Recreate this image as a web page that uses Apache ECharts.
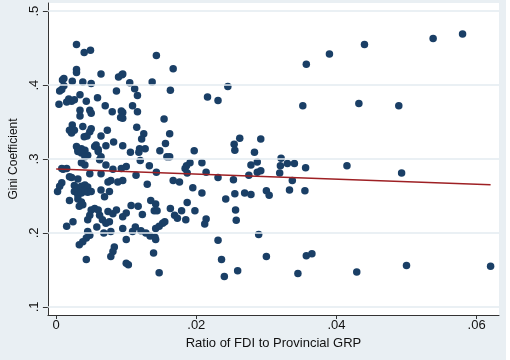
<!DOCTYPE html>
<html>
<head>
    <meta charset="utf-8" />
    <title>Gini vs FDI ratio</title>
    <script src="https://cdn.jsdelivr.net/npm/echarts@6/dist/echarts.min.js"></script>
    <style>
        html, body { margin: 0; padding: 0; background: #e9eff3; }
        #chart { width: 510px; height: 360px; }
    </style>
</head>
<body>
    <div id="chart"></div>
    <script>
        // ratio of FDI to provincial GRP (x) and Gini coefficient (y)
        var fdiRatio = [
            0.0440, 0.0538, 0.0580, 0.0432, 0.0489, 0.0415, 0.0493, 0.0429, 0.0500, 0.0620,
            0.0245, 0.0216, 0.0231, 0.0352, 0.0262, 0.0254, 0.0255, 0.0292, 0.0283, 0.0208,
            0.0278, 0.0287, 0.0321, 0.0330, 0.0340, 0.0320, 0.0214, 0.0287, 0.0292, 0.0275,
            0.0319, 0.0356, 0.0231, 0.0253, 0.0337, 0.0208, 0.0255, 0.0269, 0.0278, 0.0300,
            0.0304, 0.0333, 0.0355, 0.0242, 0.0256, 0.0257, 0.0214, 0.0212, 0.0289, 0.0231,
            0.0236, 0.0300, 0.0357, 0.0365, 0.0259, 0.0240, 0.0345,
            0.0167, 0.0163, 0.0357, 0.0390, 0.0154, 0.0162, 0.0156, 0.0158, 0.0162, 0.0197,
            0.0191, 0.0184, 0.0187,
            0.0143, 0.0095, 0.0137, 0.0105, 0.0112, 0.0116, 0.0109, 0.0116, 0.0095, 0.0095,
            0.0115, 0.0125, 0.0122, 0.0095, 0.0119, 0.0118, 0.0127, 0.0148, 0.0106,
            0.0100, 0.0120, 0.0133, 0.0143, 0.0114, 0.0186, 0.0095, 0.0130, 0.0167, 0.0176,
            0.0195, 0.0107, 0.0117, 0.0135, 0.0142, 0.0140, 0.0144, 0.0123, 0.0100, 0.0095,
            0.0163, 0.0169, 0.0173, 0.0179, 0.0187, 0.0198, 0.0185, 0.0142, 0.0147, 0.0152,
            0.0155, 0.0113, 0.0109, 0.0121, 0.0128, 0.0134, 0.0141, 0.0142, 0.0100, 0.0095,
            0.0139, 0.0103, 0.0147,
            0.0029, 0.0040, 0.0049, 0.0029, 0.0029, 0.0064, 0.0089, 0.0094, 0.0011, 0.0009,
            0.0023, 0.0038, 0.0050, 0.0011, 0.0008, 0.0005, 0.0086, 0.0034, 0.0059, 0.0018,
            0.0022, 0.0026, 0.0015, 0.0043, 0.0004, 0.0070, 0.0080, 0.0093, 0.0092, 0.0034,
            0.0034, 0.0048, 0.0050, 0.0023, 0.0026, 0.0019, 0.0022, 0.0038, 0.0050, 0.0048,
            0.0044, 0.0040, 0.0073, 0.0064, 0.0082, 0.0029, 0.0036, 0.0041, 0.0031, 0.0055,
            0.0060, 0.0057, 0.0071,
            0.0031, 0.0036, 0.0045, 0.0041, 0.0060, 0.0064, 0.0062, 0.0036, 0.0041, 0.0071,
            0.0081, 0.0093, 0.0010, 0.0015, 0.0048, 0.0064, 0.0022, 0.0031, 0.0008, 0.0005,
            0.0002, 0.0074, 0.0078, 0.0088, 0.0026, 0.0031, 0.0036, 0.0041, 0.0045, 0.0026,
            0.0031, 0.0036, 0.0041, 0.0045, 0.0050, 0.0064, 0.0076, 0.0019, 0.0031, 0.0036,
            0.0038, 0.0033, 0.0069, 0.0050, 0.0055, 0.0060, 0.0048, 0.0045, 0.0062, 0.0066,
            0.0071, 0.0076, 0.0074, 0.0081, 0.0086, 0.0024, 0.0015, 0.0058, 0.0068, 0.0078,
            0.0045, 0.0048, 0.0043, 0.0038, 0.0033, 0.0083, 0.0081, 0.0078, 0.0043, 0.0100,
            0.0008, 0.0019
        ];
        var gini = [
            0.455, 0.463, 0.469, 0.375, 0.372, 0.291, 0.281, 0.147, 0.156, 0.155,
            0.398, 0.384, 0.379, 0.372, 0.328, 0.320, 0.312, 0.327, 0.309, 0.295,
            0.292, 0.296, 0.301, 0.294, 0.294, 0.291, 0.282, 0.282, 0.284, 0.278,
            0.281, 0.288, 0.275, 0.272, 0.271, 0.254, 0.253, 0.254, 0.252, 0.257,
            0.251, 0.258, 0.257, 0.246, 0.231, 0.217, 0.219, 0.212, 0.198, 0.190,
            0.164, 0.168, 0.169, 0.172, 0.149, 0.141, 0.145,
            0.422, 0.393, 0.428, 0.442, 0.354, 0.334, 0.321, 0.303, 0.303, 0.311,
            0.295, 0.287, 0.281,
            0.440, 0.415, 0.404, 0.403, 0.395, 0.386, 0.372, 0.364, 0.363, 0.355,
            0.343, 0.334, 0.327, 0.318, 0.314, 0.309, 0.314, 0.311, 0.309,
            0.290, 0.298, 0.291, 0.282, 0.278, 0.291, 0.271, 0.266, 0.271, 0.269,
            0.261, 0.237, 0.236, 0.244, 0.239, 0.230, 0.230, 0.225, 0.227, 0.222,
            0.233, 0.224, 0.220, 0.230, 0.241, 0.230, 0.218, 0.206, 0.209, 0.213,
            0.215, 0.208, 0.202, 0.203, 0.200, 0.196, 0.194, 0.191, 0.191, 0.206,
            0.173, 0.157, 0.146,
            0.455, 0.444, 0.447, 0.421, 0.417, 0.415, 0.411, 0.414, 0.409, 0.407,
            0.405, 0.404, 0.402, 0.399, 0.394, 0.392, 0.392, 0.387, 0.383, 0.381,
            0.378, 0.380, 0.377, 0.378, 0.374, 0.372, 0.364, 0.365, 0.356, 0.366,
            0.358, 0.366, 0.362, 0.346, 0.339, 0.339, 0.335, 0.344, 0.341, 0.337,
            0.331, 0.330, 0.339, 0.331, 0.323, 0.317, 0.314, 0.312, 0.313, 0.317,
            0.313, 0.319, 0.318,
            0.310, 0.308, 0.305, 0.303, 0.310, 0.303, 0.299, 0.295, 0.292, 0.292,
            0.286, 0.287, 0.286, 0.287, 0.280, 0.280, 0.275, 0.273, 0.268, 0.263,
            0.256, 0.269, 0.271, 0.269, 0.264, 0.260, 0.263, 0.265, 0.262, 0.256,
            0.251, 0.254, 0.256, 0.255, 0.256, 0.258, 0.256, 0.244, 0.246, 0.242,
            0.238, 0.236, 0.249, 0.231, 0.233, 0.231, 0.224, 0.218, 0.224, 0.218,
            0.213, 0.215, 0.229, 0.226, 0.231, 0.215, 0.209, 0.208, 0.200, 0.202,
            0.202, 0.197, 0.193, 0.188, 0.184, 0.181, 0.175, 0.168, 0.164, 0.159,
            0.287, 0.276
        ];
        // fitted line end points
        var fitX = [0, 0.062];
        var fitY = [0.2865, 0.2653];
        // tick labels
        var xTicks = [0, 0.02, 0.04, 0.06];
        var yTicks = [0.1, 0.2, 0.3, 0.4, 0.5];

        var points = fdiRatio.map(function (x, i) { return [x, gini[i]]; });
        var fitLine = fitX.map(function (x, i) { return [x, fitY[i]]; });

        function stataNum(v) {
            var s = String(+v.toFixed(3));
            return s.replace(/^0\./, '.');
        }

        var font = "'Liberation Sans', Arial, sans-serif";
        var chart = echarts.init(document.getElementById('chart'));
        chart.setOption({
            backgroundColor: '#e9eff3',
            animation: false,
            // thin white strip at the right edge of the picture
            graphic: [{
                type: 'rect',
                right: 0, top: 0,
                shape: { width: 4, height: 360 },
                style: { fill: '#ffffff' },
                silent: true
            }],
            grid: {
                left: 45, right: 11, top: 3, bottom: 45,
                show: true,
                backgroundColor: '#ffffff',
                borderWidth: 0
            },
            xAxis: {
                type: 'value',
                min: -0.00118,
                max: 0.0632,
                name: 'Ratio of FDI to Provincial GRP',
                nameLocation: 'middle',
                nameGap: 22,
                nameTextStyle: { color: '#111', fontSize: 13, fontFamily: font },
                axisLine: { onZero: false, lineStyle: { color: '#333', width: 1 } },
                axisTick: { show: true, length: 4, customValues: xTicks, lineStyle: { color: '#333' } },
                axisLabel: {
                    customValues: xTicks,
                    formatter: stataNum,
                    color: '#111', fontSize: 13, fontFamily: font, margin: 4
                },
                splitLine: { show: false }
            },
            yAxis: {
                type: 'value',
                min: 0.089,
                max: 0.511,
                name: 'Gini Coefficient',
                nameLocation: 'middle',
                nameGap: 24,
                nameTextStyle: { color: '#111', fontSize: 12, fontFamily: font },
                axisLine: { show: true, onZero: false, lineStyle: { color: '#333', width: 1 } },
                axisTick: { show: true, length: 5, customValues: yTicks, lineStyle: { color: '#333' } },
                axisLabel: {
                    customValues: yTicks,
                    formatter: stataNum,
                    rotate: 90,
                    color: '#111', fontSize: 13, fontFamily: font, margin: 7
                },
                splitLine: { show: false }
            },
            series: [
                {
                    type: 'scatter',
                    data: points,
                    symbol: 'circle',
                    symbolSize: 7.5,
                    itemStyle: { color: '#1a3f66', opacity: 1 },
                    // light horizontal grid lines at the y ticks
                    markLine: {
                        silent: true,
                        symbol: 'none',
                        label: { show: false },
                        lineStyle: { color: '#e3ebf0', width: 1.5, type: 'solid' },
                        data: yTicks.map(function (v) { return { yAxis: v }; })
                    },
                    z: 3
                },
                {
                    type: 'line',
                    data: fitLine,
                    showSymbol: false,
                    lineStyle: { color: '#9e2024', width: 1.5 },
                    z: 4
                }
            ]
        });
    </script>
</body>
</html>
